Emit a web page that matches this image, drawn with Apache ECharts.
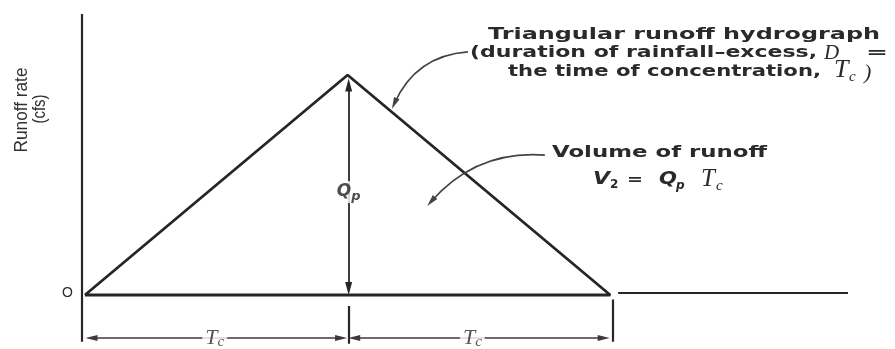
<!DOCTYPE html>
<html>
<head>
<meta charset="utf-8">
<script src="https://cdn.jsdelivr.net/npm/echarts@6/dist/echarts.min.js"></script>
<style>
  html, body { margin: 0; padding: 0; background: #fff; }
  #chart { width: 895px; height: 349px; }
</style>
</head>
<body>
<div id="chart"></div>
<script>
// Triangular runoff hydrograph, time in multiples of Tc, rate in multiples of Qp
const hydroTime = [0, 1, 2];
const hydroRate = [0, 1, 0];

// Drawn extent of the axes (same units)
const timeAxisEnd = 2.905;
const rateAxisTop = 1.277;

// Dimension spans below the time axis: [start, end] in Tc
const spanStarts = [0, 1];
const spanEnds = [1, 2];
const spanLabel = 'T';
const spanLabelSub = 'c';

const INK = '#262626';
const TEXT = '#2a2a2a';

const peakT = hydroTime[1];
const peakQ = hydroRate[1];
const endT = hydroTime[2];

// level of the dimension arrows and extent of their end ticks
const dimY = -0.195;
const tickTop = -0.02;
const tickBottom = -0.222;

// ---- series data built from the arrays above ----
const hydrograph = hydroTime.map((t, i) => [t, hydroRate[i]]);
hydrograph.push([hydroTime[0], hydroRate[0]]);

const axisSegments = [
  { coords: [[-0.012, tickBottom + 0.01], [-0.012, rateAxisTop]] },       // rate axis
  { coords: [[endT + 0.03, 0.01], [timeAxisEnd, 0.01]] },                // time axis beyond the base
  { coords: [[peakT + 0.005, tickTop - 0.03], [peakT + 0.005, tickBottom]] },
  { coords: [[endT + 0.008, tickTop], [endT + 0.008, tickBottom + 0.01]] }
];

const peakArrow = [{ coords: [[peakT + 0.004, 0.03], [peakT + 0.004, peakQ - 0.045]] }];

const spanArrows = spanStarts.map((s, i) => ({
  coords: [[s + 0.025, dimY], [spanEnds[i] - 0.025, dimY]]
}));

const leaders = [
  { coords: [[1.458, 1.105], [1.178, 0.87]] },
  { coords: [[1.751, 0.636], [1.318, 0.425]] }
];

const spanLabelPts = [[0.494, dimY], [1.475, dimY]];
const peakLabelPt = [[peakT + 0.004, 0.468]];

// ---- text helpers: stretch a string horizontally to a given span ----
const mctx = document.createElement('canvas').getContext('2d');
function textWidth(str, font) { mctx.font = font; return mctx.measureText(str).width; }
function fitText(str, font, x0, x1, y, extra) {
  const w = textWidth(str, font);
  return Object.assign({
    type: 'text', x: x0, y: y, scaleX: (x1 - x0) / w, z: 100,
    style: { text: str, font: font, fill: TEXT, align: 'left', verticalAlign: 'middle' }
  }, extra || {});
}
function plainText(str, font, x, y, align) {
  return {
    type: 'text', x: x, y: y, z: 100,
    style: { text: str, font: font, fill: TEXT, align: align || 'left', verticalAlign: 'middle' }
  };
}
// vertical title reading bottom to top, stretched along its length
function verticalText(str, font, x, y, length) {
  const w = textWidth(str, font);
  return { type: 'text', x: x, y: y, rotation: Math.PI / 2, scaleX: length / w, z: 100,
    style: { text: str, font: font, fill: '#303030', align: 'center', verticalAlign: 'middle' } };
}

const SANS_B = "bold 15px 'DejaVu Sans'";
const SANS_BI = "italic bold 17px 'DejaVu Sans'";
const SERIF_I_SUB = "italic 15px 'Liberation Serif'";
const NARROW = "19px 'Liberation Sans Narrow', 'Liberation Sans'";

const graphics = [
  // rate axis title
  verticalText('Runoff rate', NARROW, 22, 110, 85),
  verticalText('(cfs)', NARROW, 40, 109, 29),
  plainText('O', "14px 'Liberation Sans'", 62, 293),

  // hydrograph caption
  fitText('Triangular runoff hydrograph', SANS_B, 488, 880, 35),
  fitText('(duration of rainfall\u2013excess,', SANS_B, 470, 817, 53),
  plainText('D', "italic 21px 'Liberation Serif'", 824, 53),
  fitText('=', SANS_B, 866, 888, 53),
  fitText('the time of concentration,', SANS_B, 508, 821, 72),
  plainText('T', "italic 26px 'Liberation Serif'", 834, 70),
  plainText('c', SERIF_I_SUB, 849, 77),
  plainText(')', "italic 22px 'Liberation Serif'", 864, 73),

  // volume caption
  fitText('Volume of runoff', SANS_B, 552, 767, 153),
  fitText('V', SANS_BI, 593, 610, 180),
  plainText('2', "bold 12px 'DejaVu Sans'", 610, 185),
  fitText('=', SANS_B, 627, 643, 180),
  fitText('Q', SANS_BI, 659, 677, 180),
  plainText('p', "italic bold 12px 'DejaVu Sans'", 676, 186),
  plainText('T', "italic 25px 'Liberation Serif'", 701, 179),
  plainText('c', SERIF_I_SUB, 716, 186)
];

const richTc = {
  t: { fontFamily: 'Liberation Serif', fontStyle: 'italic', fontSize: 22, color: TEXT },
  c: { fontFamily: 'Liberation Serif', fontStyle: 'italic', fontSize: 15, color: TEXT, padding: [9, 0, 0, 0] }
};

const hidden = { color: 'rgba(0,0,0,0)' };

const chart = echarts.init(document.getElementById('chart'), null, { renderer: 'canvas' });
chart.setOption({
  animation: false,
  backgroundColor: '#fff',
  grid: { left: 81, right: 26, top: 13.4, bottom: 1.2, containLabel: false },
  xAxis: { type: 'value', min: -0.015, max: 2.985, show: false },
  yAxis: { type: 'value', min: -0.24, max: 1.28, show: false },
  series: [
    {
      type: 'lines', coordinateSystem: 'cartesian2d', z: 2,
      symbol: 'none',
      lineStyle: { color: INK, width: 2.2, opacity: 1 },
      data: axisSegments
    },
    {
      type: 'line', z: 3, symbol: 'none', silent: true,
      lineStyle: { color: INK, width: 2.8 },
      data: hydrograph
    },
    {
      type: 'lines', coordinateSystem: 'cartesian2d', z: 4,
      symbol: ['triangle', 'triangle'], symbolSize: [[7, 13], [7, 13]],
      lineStyle: { color: INK, width: 1.8, opacity: 1 },
      itemStyle: { color: INK },
      data: peakArrow
    },
    {
      type: 'lines', coordinateSystem: 'cartesian2d', z: 4,
      symbol: ['triangle', 'triangle'], symbolSize: [[6, 12], [6, 12]],
      lineStyle: { color: '#3a3a3a', width: 1.5, opacity: 1 },
      data: spanArrows
    },
    {
      type: 'lines', coordinateSystem: 'cartesian2d', z: 4,
      symbol: ['none', 'triangle'], symbolSize: [[6, 12], [6, 12]],
      lineStyle: { color: '#444', width: 1.6, opacity: 1, curveness: -0.3 },
      data: [leaders[0]]
    },
    {
      type: 'lines', coordinateSystem: 'cartesian2d', z: 4,
      symbol: ['none', 'triangle'], symbolSize: [[6, 12], [6, 12]],
      lineStyle: { color: '#444', width: 1.6, opacity: 1, curveness: -0.25 },
      data: [leaders[1]]
    },
    {
      type: 'scatter', z: 10, symbolSize: 1, itemStyle: hidden, silent: true,
      label: {
        show: true, position: 'inside',
        formatter: '{t|' + spanLabel + '}{c|' + spanLabelSub + '}',
        backgroundColor: '#fff', padding: [0, 3],
        rich: richTc
      },
      data: spanLabelPts
    },
    {
      type: 'scatter', z: 10, symbolSize: 1, itemStyle: hidden, silent: true,
      label: {
        show: true, position: 'inside',
        formatter: '{q|Q}{p|p}',
        backgroundColor: '#fff', padding: [0, 1],
        rich: {
          q: { fontFamily: 'DejaVu Sans', fontStyle: 'italic', fontWeight: 'bold', fontSize: 17, color: '#222' },
          p: { fontFamily: 'DejaVu Sans', fontStyle: 'italic', fontWeight: 'bold', fontSize: 13, color: '#222', padding: [9, 0, 0, 0] }
        }
      },
      data: peakLabelPt
    }
  ],
  graphic: graphics
});
</script>
</body>
</html>
